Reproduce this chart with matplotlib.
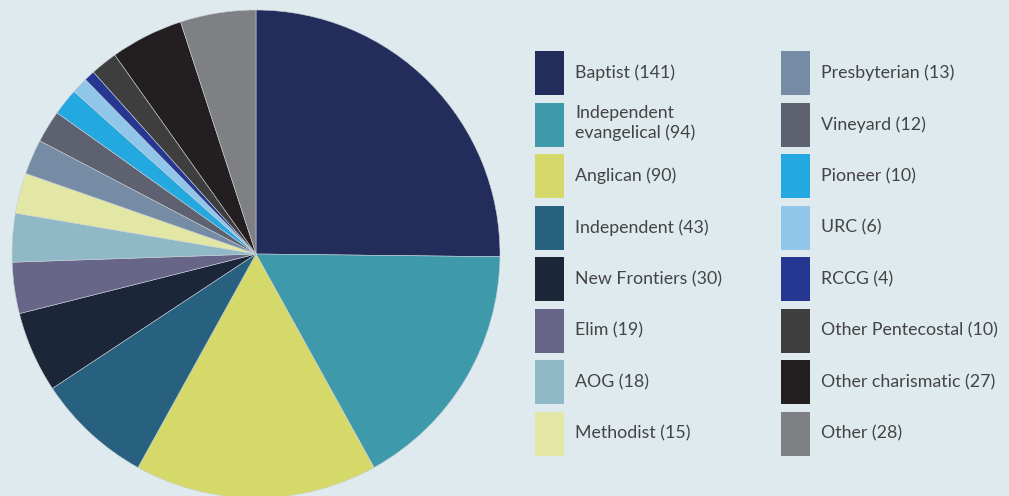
import matplotlib.pyplot as plt
from matplotlib.patches import Patch

labels = ["Baptist", "Independent\nevangelical", "Anglican", "Independent",
          "New Frontiers", "Elim", "AOG", "Methodist", "Presbyterian",
          "Vineyard", "Pioneer", "URC", "RCCG", "Other Pentecostal",
          "Other charismatic", "Other"]
counts = [141, 94, 90, 43, 30, 19, 18, 15, 13, 12, 10, 6, 4, 10, 27, 28]
colors = ["#232d5c", "#3e9aab", "#d4d96a", "#27617f", "#1c2639", "#686688",
          "#8fb9c6", "#e2e7a6", "#768ba4", "#5e616f", "#24a8e0", "#8fc6ea",
          "#263791", "#3e3e3e", "#231f20", "#7f8083"]

bg = "#dfeaee"
W, H = 1009, 496
fig = plt.figure(figsize=(W / 100, H / 100), dpi=100, facecolor=bg)

# pie: centre (256, 254), radius 244 px
ax = fig.add_axes([12 / W, (H - 254 - 244) / H, 488 / W, 488 / H])
ax.set_facecolor(bg)
ax.pie(counts, colors=colors, startangle=90, counterclock=False, radius=1,
       wedgeprops=dict(linewidth=0.4, edgecolor="#c8d0d6"))
ax.set_xlim(-1, 1)
ax.set_ylim(-1, 1)
ax.set_aspect("equal")
ax.axis("off")

fs = 12.8
px = fs * 100 / 72
# legend patch height = fs * (0.65 * handleheight + 0.245)
hh = (44 / px - 0.245) / 0.65
handles = [Patch(facecolor=c, edgecolor="none") for c in colors]
texts = [f"{l} ({n})" for l, n in zip(labels, counts)]

for col, x0 in enumerate([535, 781]):
    sl = slice(col * 8, col * 8 + 8)
    leg = fig.legend(handles[sl], texts[sl], loc="upper left",
                     bbox_to_anchor=(x0 / W, 1 - 51 / H),
                     bbox_transform=fig.transFigure,
                     frameon=False, borderpad=0, borderaxespad=0,
                     handlelength=29 / px, handleheight=hh,
                     handletextpad=11 / px, labelspacing=7.5 / px,
                     prop=dict(family="Lato", size=fs), labelcolor="#444444")
    for t in leg.get_texts():
        t.set_linespacing(1.3)

fig.savefig("out.png", dpi=100, facecolor=bg)
